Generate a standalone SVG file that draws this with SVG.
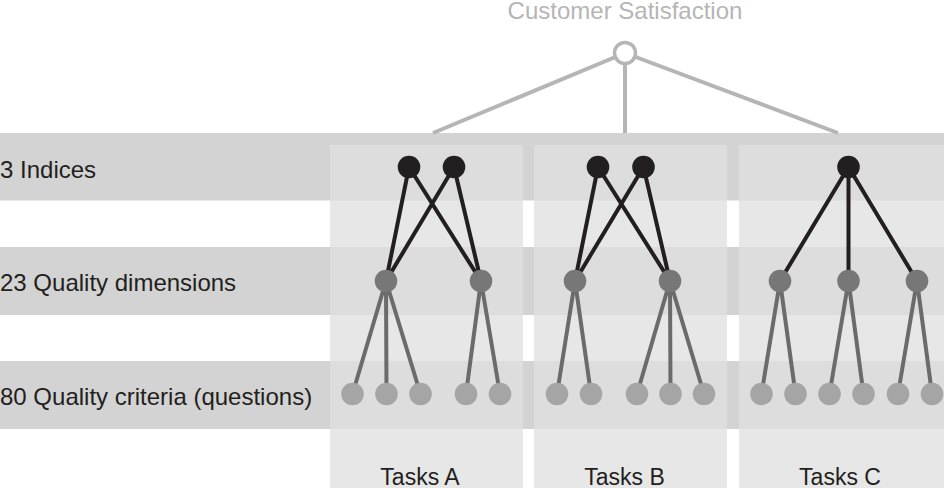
<svg xmlns="http://www.w3.org/2000/svg" width="944" height="488" viewBox="0 0 944 488">
<style>
.band{fill:#d3d3d3}
.col{fill:#e7e7e7}
.colb{fill:#dddddd}
.lbl{font-family:"Liberation Sans",Arial,sans-serif;font-size:24px;fill:#231f20}
.task{font-family:"Liberation Sans",Arial,sans-serif;font-size:23px;fill:#231f20;text-anchor:middle}
.title{font-family:"Liberation Sans",Arial,sans-serif;font-size:24px;fill:#b5b5b5;text-anchor:middle}
.root{stroke:#b5b5b5;stroke-width:4;fill:none}
.e1{stroke:#231f20;stroke-width:4;fill:none}
.e2{stroke:#6b6b6b;stroke-width:4;fill:none}
.n1{fill:#231f20}
.n2{fill:#777777}
.n3{fill:#a5a5a5}
</style>
<rect width="944" height="488" fill="#ffffff"/>
<g id="bands">
<rect class="band" x="0" y="133" width="944" height="67.5"/>
<rect class="band" x="0" y="247" width="944" height="68"/>
<rect class="band" x="0" y="361" width="944" height="68"/>
</g>
<g id="columns">
<rect class="col" x="330" y="145" width="193" height="343"/>
<rect class="col" x="534" y="145" width="193" height="343"/>
<rect class="col" x="739" y="145" width="205" height="343"/>
<rect class="colb" x="330" y="145" width="193" height="55.5"/>
<rect class="colb" x="534" y="145" width="193" height="55.5"/>
<rect class="colb" x="739" y="145" width="205" height="55.5"/>
<rect class="colb" x="330" y="247" width="193" height="68"/>
<rect class="colb" x="534" y="247" width="193" height="68"/>
<rect class="colb" x="739" y="247" width="205" height="68"/>
<rect class="colb" x="330" y="361" width="193" height="68"/>
<rect class="colb" x="534" y="361" width="193" height="68"/>
<rect class="colb" x="739" y="361" width="205" height="68"/>
</g>
<g id="labels">
<text class="lbl" x="0" y="177.5">3 Indices</text>
<text class="lbl" x="0" y="291">23 Quality dimensions</text>
<text class="lbl" x="0" y="405">80 Quality criteria (questions)</text>
<text class="title" x="625" y="19">Customer Satisfaction</text>
<text class="task" x="420" y="484.5">Tasks A</text>
<text class="task" x="624.5" y="484.5">Tasks B</text>
<text class="task" x="840" y="484.5">Tasks C</text>
</g>
<g id="connectors">
<path class="root" d="M625 53 L433 133 M625 53 L625 133 M625 53 L838 133"/>
<path class="e1" d="M409 167 L386 281 M409 167 L481 281 M454 167 L386 281 M454 167 L481 281"/>
<path class="e1" d="M598 167 L575 281 M598 167 L670 281 M643.5 167 L575 281 M643.5 167 L670 281"/>
<path class="e1" d="M848.5 167 L780 281 M848.5 167 L848.5 281 M848.5 167 L917 281"/>
<path class="e2" d="M386 281 L352.5 394 M386 281 L386.5 394 M386 281 L420.5 394 M481 281 L466 394 M481 281 L500 394"/>
<path class="e2" d="M575 281 L557 394 M575 281 L591 394 M670 281 L637 394 M670 281 L670.5 394 M670 281 L704 394"/>
<path class="e2" d="M780 281 L761.5 394 M780 281 L795.5 394 M848.5 281 L829.5 394 M848.5 281 L863.5 394 M917 281 L898 394 M917 281 L932 394"/>
</g>
<g id="root-node"><circle cx="625" cy="53" r="10.5" fill="#ffffff" stroke="#b5b5b5" stroke-width="3.5"/></g>
<g id="indices">
<circle id="iA1" class="n1" cx="409" cy="167" r="11.3"/>
<circle id="iA2" class="n1" cx="454" cy="167" r="11.3"/>
<circle id="iB1" class="n1" cx="598" cy="167" r="11.3"/>
<circle id="iB2" class="n1" cx="643.5" cy="167" r="11.3"/>
<circle id="iC1" class="n1" cx="848.5" cy="167" r="11.3"/>
</g>
<g id="dimensions">
<circle id="dA1" class="n2" cx="386" cy="281" r="11.3"/>
<circle id="dA2" class="n2" cx="481" cy="281" r="11.3"/>
<circle id="dB1" class="n2" cx="575" cy="281" r="11.3"/>
<circle id="dB2" class="n2" cx="670" cy="281" r="11.3"/>
<circle id="dC1" class="n2" cx="780" cy="281" r="11.3"/>
<circle id="dC2" class="n2" cx="848.5" cy="281" r="11.3"/>
<circle id="dC3" class="n2" cx="917" cy="281" r="11.3"/>
</g>
<g id="criteria">
<circle id="cA1" class="n3" cx="352.5" cy="394" r="11.3"/>
<circle id="cA2" class="n3" cx="386.5" cy="394" r="11.3"/>
<circle id="cA3" class="n3" cx="420.5" cy="394" r="11.3"/>
<circle id="cA4" class="n3" cx="466" cy="394" r="11.3"/>
<circle id="cA5" class="n3" cx="500" cy="394" r="11.3"/>
<circle id="cB1" class="n3" cx="557" cy="394" r="11.3"/>
<circle id="cB2" class="n3" cx="591" cy="394" r="11.3"/>
<circle id="cB3" class="n3" cx="637" cy="394" r="11.3"/>
<circle id="cB4" class="n3" cx="670.5" cy="394" r="11.3"/>
<circle id="cB5" class="n3" cx="704" cy="394" r="11.3"/>
<circle id="cC1" class="n3" cx="761.5" cy="394" r="11.3"/>
<circle id="cC2" class="n3" cx="795.5" cy="394" r="11.3"/>
<circle id="cC3" class="n3" cx="829.5" cy="394" r="11.3"/>
<circle id="cC4" class="n3" cx="863.5" cy="394" r="11.3"/>
<circle id="cC5" class="n3" cx="898" cy="394" r="11.3"/>
<circle id="cC6" class="n3" cx="932" cy="394" r="11.3"/>
</g>
</svg>
